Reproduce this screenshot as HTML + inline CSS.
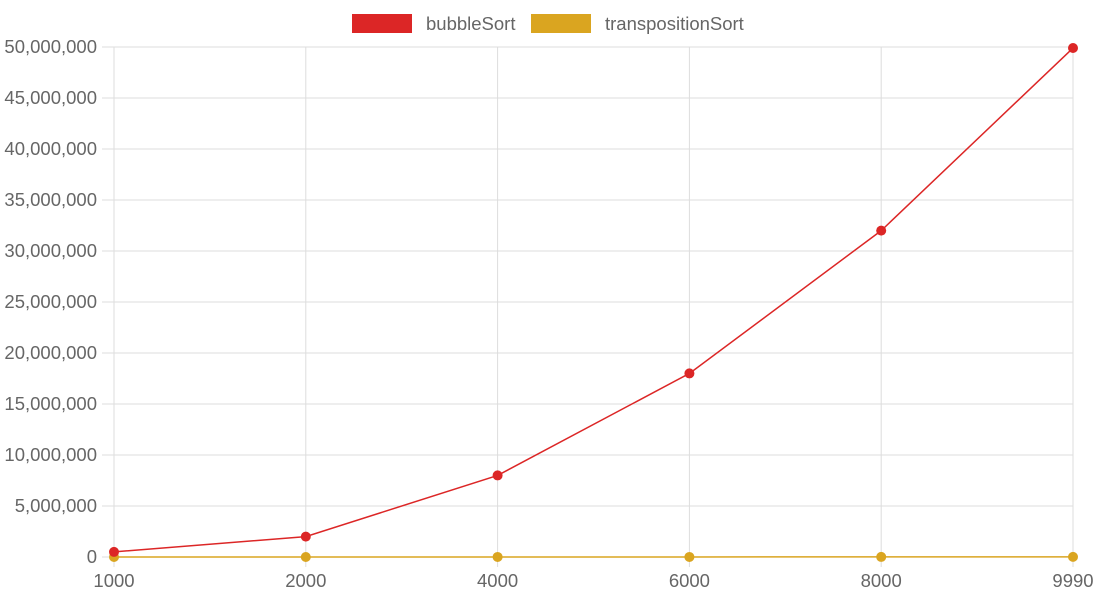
<!DOCTYPE html>
<html><head><meta charset="utf-8"><style>
body{margin:0;background:#fff;}
svg{display:block;font-family:"Liberation Sans",sans-serif;}
</style></head><body>
<svg id="chart" width="1098" height="600"></svg>
<script>
const categories=["1000","2000","4000","6000","8000","9990"];
const bubbleSort=[499500,1999000,7998000,17997000,31996000,49900000];
const transpositionSort=[999,1999,3999,5999,7999,9989];
const yTicks=[0,5000000,10000000,15000000,20000000,25000000,30000000,35000000,40000000,45000000,50000000];
const svg=document.getElementById('chart');
const NS='http://www.w3.org/2000/svg';
const L=114,R=1073,T=47,B=557,yMax=50000000;
function xs(i){return L+(R-L)*i/(categories.length-1);}
function ys(v){return B-(B-T)*v/yMax;}
function mk(tag,attrs,parent){const e=document.createElementNS(NS,tag);for(const k in attrs)e.setAttribute(k,attrs[k]);(parent||svg).appendChild(e);return e;}
const grid=mk('g',{});


yTicks.forEach(v=>{
  const y=ys(v);
  const l=mk('line',{x1:102,x2:R,y1:y,y2:y,stroke:'#dddddd','stroke-width':1},grid);
  
  
  const t=mk('text',{x:97,y:y+6,'text-anchor':'end','font-size':18.5,fill:'#666'});
  t.textContent=v.toLocaleString('en-US');
  
  
});
categories.forEach((c,i)=>{
  const x=xs(i);
  const l=mk('line',{x1:x,x2:x,y1:T,y2:B+10,stroke:'#dddddd','stroke-width':1},grid);
  
  
  const t=mk('text',{x:x,y:587,'text-anchor':'middle','font-size':18.5,fill:'#666'});
  t.textContent=c;
  
  
});
function series(vals,color,name){
  const g=mk('g',{});
  
  
  const pl=mk('polyline',{points:vals.map((v,i)=>xs(i)+','+ys(v)).join(' '),fill:'none',stroke:color,'stroke-width':1.5},g);
  
  
  vals.forEach((v,i)=>{
    const c=mk('circle',{cx:xs(i),cy:ys(v),r:5,fill:color},g);
    
    
  });
}
series(transpositionSort,'#daa520','transposition-sort');
series(bubbleSort,'#dc2626','bubble-sort');
const lg=mk('g',{});


const r1=mk('rect',{x:352,y:14,width:60,height:19,fill:'#dc2626'},lg);


const t1=mk('text',{x:426,y:30,'font-size':18.5,fill:'#666'},lg);
t1.textContent='bubbleSort';


const r2=mk('rect',{x:531,y:14,width:60,height:19,fill:'#daa520'},lg);


const t2=mk('text',{x:605,y:30,'font-size':18.5,fill:'#666'},lg);
t2.textContent='transpositionSort';


</script>
</body></html>
